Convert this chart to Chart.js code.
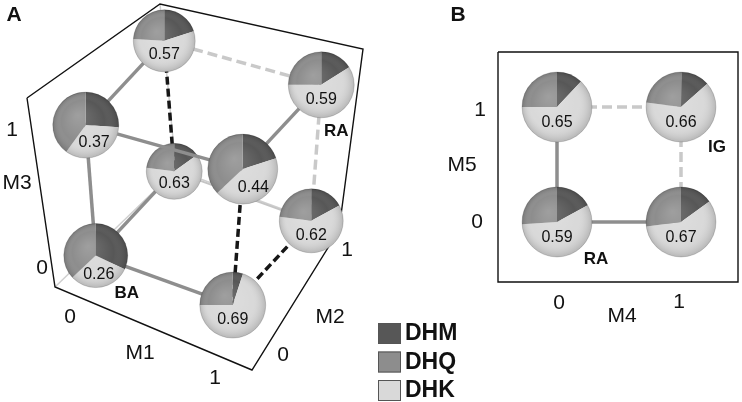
<!DOCTYPE html>
<html>
<head>
<meta charset="utf-8">
<script src="https://cdn.jsdelivr.net/npm/chart.js@4.4.0/dist/chart.umd.min.js"></script>
<style>
  html, body { margin: 0; padding: 0; background: #fff; }
  #grafico { display: block; }
</style>
</head>
<body>
<canvas id="grafico" width="742" height="402"></canvas>
<script>
// categorias das fatias (ordem da legenda)
const categorias = ['DHM', 'DHQ', 'DHK'];

// painel A: genotipos M1 M2 M3
const genotiposA = ['000', '100', '010', '110', '001', '101', '011', '111'];
const valoresA = ['0.26', '0.69', '0.63', '0.62', '0.37', '0.44', '0.57', '0.59'];
const dhmA = [0.32, 0.05, 0.15, 0.17, 0.26, 0.20, 0.20, 0.16];
const dhqA = [0.37, 0.25, 0.23, 0.23, 0.40, 0.37, 0.24, 0.25];
const dhkA = [0.31, 0.70, 0.62, 0.60, 0.34, 0.43, 0.56, 0.59];
const nomesA = ['BA', '', '', '', '', '', '', 'RA'];
const arestasA = [
    ['000', '100', 'solida'], ['000', '001', 'solida'], ['000', '010', 'solida'],
    ['001', '011', 'solida'], ['101', '111', 'solida'], ['001', '101', 'solida'],
    ['011', '111', 'clara'], ['111', '110', 'clara'], ['010', '110', 'fina'],
    ['011', '010', 'preta'], ['101', '100', 'preta'], ['100', '110', 'preta']
];

// painel B: genotipos M4 M5
const genotiposB = ['00', '10', '01', '11'];
const valoresB = ['0.59', '0.67', '0.65', '0.66'];
const dhmB = [0.17, 0.15, 0.12, 0.135];
const dhqB = [0.26, 0.27, 0.25, 0.235];
const dhkB = [0.57, 0.58, 0.63, 0.635];
const nomesB = ['RA', '', '', 'IG'];
const arestasB = [
    ['01', '11', 'clara'], ['01', '00', 'solida'],
    ['11', '10', 'clara'], ['00', '10', 'solida']
];
const ticksEixo = ['0', '1'];

// estilos
const coresFatias = { DHM: '#575757', DHQ: '#8d8d8d', DHK: '#d9d9d9' };
const estilosAresta = {
    solida: { cor: '#8e8e8e', largura: 3.5, traco: [] },
    clara: { cor: '#c9c9c9', largura: 3.5, traco: [10, 5] },
    preta: { cor: '#161616', largura: 3.5, traco: [8, 4] },
    fina: { cor: '#c4c4c4', largura: 2, traco: [] }
};
const raiosA = [32, 33, 28, 32, 33, 35, 31, 33];
const FONTE = "'Liberation Sans', Arial, sans-serif";

// projecao do cubo (pseudo perspectiva) e do quadrado
function projA(cod) {
    const u = +cod[0], v = +cod[1], w = +cod[2];
    return {
        x: 95.75 + 137 * u + 78.5 * v - 10 * w + 20 * u * w,
        y: 255.6 + 49.5 * u - 84.25 * v - 130.5 * w - 5.5 * u * w
    };
}
function projB(cod) {
    return { x: 557 + 124 * (+cod[0]), y: 222 - 115 * (+cod[1]) };
}

// moldura do cubo
const moldura = {
    f000: { x: 55, y: 287 }, f100: { x: 252, y: 370 }, f110: { x: 339, y: 230 },
    f111: { x: 363, y: 49 }, f011: { x: 160, y: 4 }, f001: { x: 27, y: 98 },
    f010: { x: 176, y: 170 }
};

function linha(pontos, cor, largura, traco, ordem) {
    return {
        type: 'scatter', data: pontos, showLine: true, borderColor: cor,
        borderWidth: largura, borderDash: traco, pointRadius: 0, order: ordem,
        borderCapStyle: 'butt'
    };
}

const datasets = [];
const m = moldura;
// contorno preto
datasets.push(linha([m.f001, m.f000, m.f100, m.f110, m.f111, m.f011, m.f001], '#111', 1.4, [], 60));
// arestas do fundo da caixa
[m.f000, m.f110, m.f011].forEach(p => datasets.push(linha([m.f010, p], '#cfcfcf', 1.5, [], 60)));

// arestas painel A
arestasA.forEach(a => {
    const e = estilosAresta[a[2]];
    const ordem = (a[0] === '001' && a[1] === '101') ? 20 : 40;
    datasets.push(linha([projA(a[0]), projA(a[1])], e.cor, e.largura, e.traco, ordem));
});
// arestas painel B
arestasB.forEach(a => {
    const e = estilosAresta[a[2]];
    datasets.push(linha([projB(a[0]), projB(a[1])], e.cor, e.largura, e.traco, 40));
});
// caixa do painel B
datasets.push(linha([{ x: 498, y: 52 }, { x: 738, y: 52 }, { x: 738, y: 282 }, { x: 498, y: 282 }, { x: 498, y: 52 }], '#111', 1.4, [], 60));

// nos (pizzas)
function nos(gens, proj, idx, dhm, dhq, dhk, valores, nomes, raios, ordem) {
    return {
        type: 'scatter', order: ordem, pointRadius: 0,
        data: idx.map(i => proj(gens[i])),
        fatias: idx.map(i => [dhm[i], dhk[i], dhq[i]]),
        coresF: [coresFatias.DHM, coresFatias.DHK, coresFatias.DHQ],
        rotulos: idx.map(i => valores[i]),
        nomes: idx.map(i => nomes[i]),
        raios: idx.map(i => raios[i])
    };
}
const fundoA = [2];
const frenteA = [0, 1, 3, 4, 5, 6, 7];
datasets.push(nos(genotiposA, projA, fundoA, dhmA, dhqA, dhkA, valoresA, nomesA, raiosA, 30));
datasets.push(nos(genotiposA, projA, frenteA, dhmA, dhqA, dhkA, valoresA, nomesA, raiosA, 10));
datasets.push(nos(genotiposB, projB, [0, 1, 2, 3], dhmB, dhqB, dhkB, valoresB, nomesB, [35, 35, 35, 35], 10));

function desenhaPizza(ctx, cx, cy, r, fatias, cores, rotulo) {
    let ang = -Math.PI / 2;
    fatias.forEach((f, k) => {
        const fim = ang + f * Math.PI * 2;
        ctx.beginPath();
        ctx.moveTo(cx, cy);
        ctx.arc(cx, cy, r, ang, fim);
        ctx.closePath();
        ctx.fillStyle = cores[k];
        ctx.fill();
        ang = fim;
    });
    // sombreado de esfera
    const g = ctx.createRadialGradient(cx - r * 0.25, cy - r * 0.3, 0, cx, cy, r);
    g.addColorStop(0, 'rgba(255,255,255,0.16)');
    g.addColorStop(0.65, 'rgba(255,255,255,0)');
    g.addColorStop(1, 'rgba(0,0,0,0.16)');
    ctx.beginPath();
    ctx.arc(cx, cy, r, 0, Math.PI * 2);
    ctx.fillStyle = g;
    ctx.fill();
    ctx.strokeStyle = 'rgba(0,0,0,0.15)';
    ctx.lineWidth = 1;
    ctx.stroke();
    // rotulo na fatia clara
    const dhk = fatias[1];
    let lx = cx, ly = cy + r * 0.45;
    if (dhk < 0.5) {
        const meio = (fatias[0] + dhk / 2) * Math.PI * 2;
        lx = cx + Math.sin(meio) * r * 0.6;
        ly = cy - Math.cos(meio) * r * 0.6;
    }
    ctx.fillStyle = '#111';
    ctx.font = '16px ' + FONTE;
    ctx.textAlign = 'center';
    ctx.textBaseline = 'middle';
    ctx.fillText(rotulo, lx, ly);
}

const desvioNome = { BA: [31, 38], RA: [15, 46], RAB: [39, 37], IG: [36, 40] };

function texto(ctx, t, x, y, fonte) {
    ctx.font = fonte;
    ctx.fillStyle = '#111';
    ctx.textAlign = 'center';
    ctx.textBaseline = 'middle';
    ctx.fillText(t, x, y);
}

const pluginPizzas = {
    id: 'pizzas',
    afterDatasetDraw(chart, args) {
        const ds = chart.data.datasets[args.index];
        if (!ds.fatias) return;
        const ctx = chart.ctx;
        ctx.save();
        args.meta.data.forEach((pt, i) => {
            desenhaPizza(ctx, pt.x, pt.y, ds.raios[i], ds.fatias[i], ds.coresF, ds.rotulos[i]);
        });
        ctx.restore();
    },
    afterDraw(chart) {
        const ctx = chart.ctx;
        const sx = chart.scales.x, sy = chart.scales.y;
        ctx.save();
        // nomes dos genotipos
        chart.data.datasets.forEach(ds => {
            if (!ds.nomes) return;
            ds.nomes.forEach((n, i) => {
                if (!n) return;
                const pt = ds.data[i];
                const chave = (n === 'RA' && pt.x > 450) ? 'RAB' : n;
                const d = desvioNome[chave];
                texto(ctx, n, sx.getPixelForValue(pt.x + d[0]), sy.getPixelForValue(pt.y + d[1]), 'bold 17px ' + FONTE);
            });
        });
        const f = '21px ' + FONTE;
        // painel A
        texto(ctx, 'A', 14, 15, 'bold 21px ' + FONTE);
        texto(ctx, ticksEixo[1], 12, 130, f);
        texto(ctx, 'M3', 17, 183, f);
        texto(ctx, ticksEixo[0], 42, 268, f);
        texto(ctx, ticksEixo[0], 70, 317, f);
        texto(ctx, 'M1', 140, 353, f);
        texto(ctx, ticksEixo[1], 215, 378, f);
        texto(ctx, ticksEixo[0], 283, 355, f);
        texto(ctx, 'M2', 330, 317, f);
        texto(ctx, ticksEixo[1], 347, 250, f);
        // painel B
        texto(ctx, 'B', 458, 15, 'bold 21px ' + FONTE);
        texto(ctx, ticksEixo[1], 480, 110, f);
        texto(ctx, 'M5', 462, 165, f);
        texto(ctx, ticksEixo[0], 477, 222, f);
        texto(ctx, ticksEixo[0], 559, 303, f);
        texto(ctx, ticksEixo[1], 679, 302, f);
        texto(ctx, 'M4', 622, 316, f);
        // legenda
        categorias.forEach((c, i) => {
            const y = 323 + i * 28.5;
            ctx.fillStyle = coresFatias[c];
            ctx.fillRect(378, y, 23, 21);
            ctx.strokeStyle = '#555';
            ctx.lineWidth = 1;
            ctx.strokeRect(378.5, y + 0.5, 22, 20);
            ctx.font = 'bold 23px ' + FONTE;
            ctx.fillStyle = '#111';
            ctx.textAlign = 'left';
            ctx.textBaseline = 'middle';
            ctx.fillText(c, 405, y + 11);
        });
        ctx.restore();
    }
};

const config = {
    type: 'scatter',
    data: { datasets },
    options: {
        responsive: false,
        animation: false,
        layout: { padding: 0 },
        plugins: { legend: { display: false }, tooltip: { enabled: false } },
        scales: {
            x: { type: 'linear', min: 0, max: 742, display: false },
            y: { type: 'linear', min: 0, max: 402, reverse: true, display: false }
        }
    },
    plugins: [pluginPizzas]
};

const grafico = new Chart(document.getElementById('grafico'), config);
</script>
</body>
</html>
